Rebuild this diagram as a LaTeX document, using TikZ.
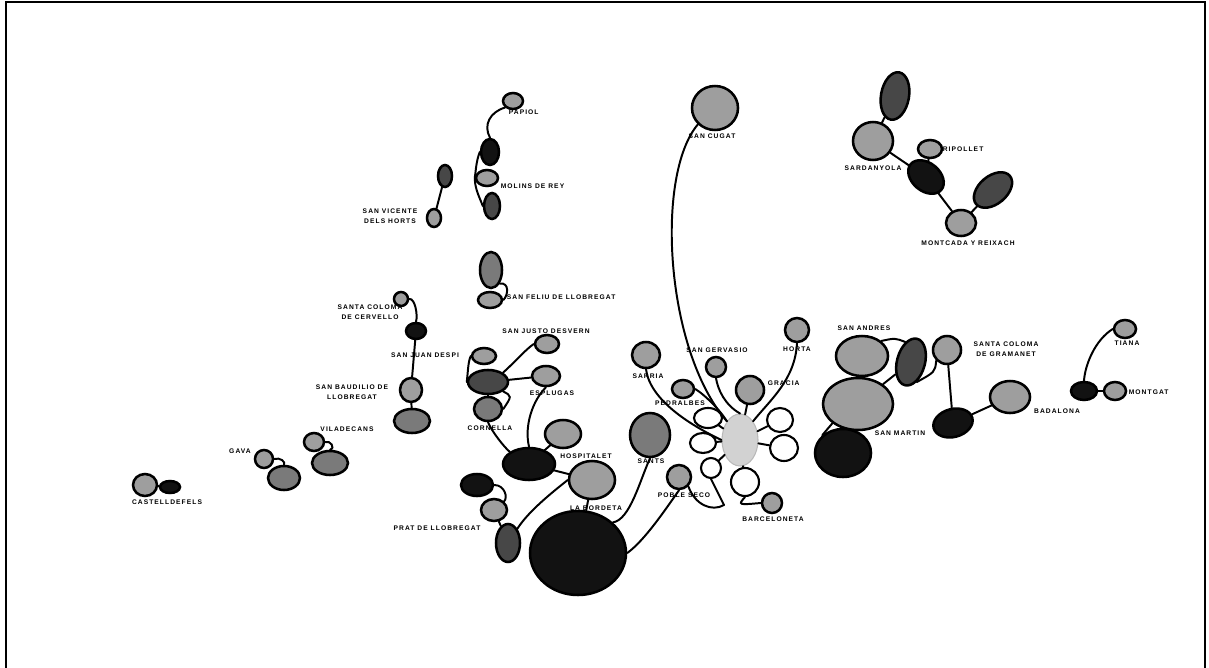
\documentclass[tikz,border=0pt]{standalone}
\usepackage{fontspec}
\newfontfamily\labfont[LetterSpace=16]{Liberation Sans}
\usetikzlibrary{shapes.geometric}

\definecolor{lightfill}{gray}{0.62}
\definecolor{midfill}{gray}{0.48}
\definecolor{darkfill}{gray}{0.28}
\definecolor{blackfill}{gray}{0.07}

\tikzset{
  town/.style={ellipse, draw=black, line width=3.6pt, inner sep=0pt},
  lt/.style={town, fill=lightfill},
  md/.style={town, fill=midfill},
  dk/.style={town, fill=darkfill},
  bk/.style={town, fill=blackfill},
  hole/.style={town, fill=white, line width=3pt},
  centre/.style={ellipse, draw=gray!55, fill=gray!35, line width=1.5pt, inner sep=0pt},
  sz/.style 2 args={minimum width=#1mm, minimum height=#2mm},
  link/.style={line width=2.8pt, line cap=round},
  lab/.style={font=\labfont\bfseries\fontsize{9.5}{14}\selectfont, inner sep=1pt, align=center}
}

\begin{document}
\begin{tikzpicture}[x=0.5mm, y=-0.5mm]
        \useasboundingbox (0,0) rectangle (1209,668);
        % frame
        \draw [line width=1.8pt] (6,668) -- (6,2) -- (1205,2) -- (1205,668);

        % Papiol and Molins de Rey
        \node [lt, sz={10}{8}] (papiol) at (513,101) {};
        \node [bk, sz={9}{13}] (molinsb) at (490,152) {};
        \node [lt, sz={11}{8}] (molins) at (487,178) {};
        \node [dk, sz={8}{13}] (molinsd) at (492,206) {};
        \node [lab, anchor=west] (l-papiol) at (508,112) {PAPIOL};
        \node [lab, anchor=west] (l-molins) at (500,186) {MOLINS DE REY};
        \draw [link] (papiol.south west) .. controls (490,112) and (483,125) .. (molinsb.north);
        \draw [link] (molinsb.west) .. controls (476,162) and (476,170) .. (molins.west);
        \draw [link] (molins.west) .. controls (475,190) and (480,198) .. (molinsd.west);

        % San Vicente dels Horts
        \node [dk, sz={7}{11}] (svd) at (445,176) {};
        \node [lt, sz={7}{9}] (svh) at (434,218) {};
        \node [lab] (l-svh) at (390,216) {SAN VICENTE\\DELS HORTS};
        \draw [link] (svd) -- (svh);

        % San Feliu de Llobregat
        \node [md, sz={11}{18}] (sfd) at (491,270) {};
        \node [lt, sz={12}{8}] (sfeliu) at (490,300) {};
        \node [lab, anchor=west] (l-sfeliu) at (506,297) {SAN FELIU DE LLOBREGAT};
        \draw [link] (sfd.south east) .. controls (510,282) and (508,296) .. (sfeliu.east);

        % Cervello column
        \node [lt, sz={7}{7}] (scc) at (401,299) {};
        \node [bk, sz={10}{8}] (sccb) at (416,331) {};
        \node [lt, sz={11}{12}] (sbaud) at (411,390) {};
        \node [md, sz={18}{12}] (sbaudb) at (412,421) {};
        \node [lab] (l-scc) at (370,312) {SANTA COLOMA\\DE CERVELLO};
        \node [lab] (l-sjd) at (425,355) {SAN JUAN DESPI};
        \node [lab] (l-sbaud) at (352,392) {SAN BAUDILIO DE\\LLOBREGAT};
        \draw [link] (scc.east) .. controls (415,298) and (418,315) .. (sccb.north);
        \draw [link] (sccb) -- (sbaud);
        \draw [link] (sbaud) -- (sbaudb);

        % Viladecans, Gava, Castelldefels
        \node [lt, sz={10}{9}] (vila) at (314,442) {};
        \node [md, sz={18}{12}] (vilab) at (330,463) {};
        \node [lt, sz={9}{9}] (gava) at (264,459) {};
        \node [md, sz={16}{12}] (gavab) at (284,478) {};
        \node [lt, sz={12}{11}] (castell) at (145,485) {};
        \node [bk, sz={10}{6}] (castellb) at (170,487) {};
        \node [lab] (l-vila) at (347,429) {VILADECANS};
        \node [lab] (l-gava) at (240,451) {GAVA};
        \node [lab] (l-castell) at (167,502) {CASTELLDEFELS};
        \draw [link] (vila.east) .. controls (330,440) and (336,448) .. (vilab.north);
        \draw [link] (gava.east) .. controls (280,457) and (286,462) .. (gavab.north);
        \draw [link] (castell) -- (castellb);

        % Llobregat
        \node [lt, sz={12}{8}] (sjdg) at (484,356) {};
        \node [dk, sz={20}{12}] (sjdd) at (488,382) {};
        \node [lt, sz={12}{9}] (sjust) at (547,344) {};
        \node [lt, sz={14}{10}] (espl) at (546,376) {};
        \node [md, sz={14}{12}] (corn) at (488,409) {};
        \node [bk, sz={26}{16}] (hosp) at (529,464) {};
        \node [lt, sz={18}{14}] (hospg) at (563,434) {};
        \node [lt, sz={23}{19}] (bord) at (592,480) {};
        \node [bk, sz={48}{42}] (franca) at (578,553) {};
        \node [bk, sz={16}{11}] (pratb) at (477,485) {};
        \node [lt, sz={13}{11}] (pratg) at (494,510) {};
        \node [dk, sz={12}{19}] (prat) at (508,543) {};
        \node [lab] (l-sjust) at (546,331) {SAN JUSTO DESVERN};
        \node [lab] (l-espl) at (552,393) {ESPLUGAS};
        \node [lab] (l-corn) at (490,428) {CORNELLA};
        \node [lab] (l-hosp) at (586,456) {HOSPITALET};
        \node [lab] (l-bord) at (596,508) {LA BORDETA};
        \node [lab] (l-prat) at (437,528) {PRAT DE LLOBREGAT};
        \draw [link] (sjdg.west) .. controls (468,362) and (468,372) .. (sjdd.west);
        \draw [link] (sjdd.north east) .. controls (515,362) and (525,350) .. (sjust.west);
        \draw [link] (sjdd) -- (espl);
        \draw [link] (sjdd) -- (corn);
        \draw [link] (sjdd.south east) .. controls (512,396) .. (corn.east);
        \draw [link] (corn.south) .. controls (492,432) and (505,448) .. (hosp.north west);
        \draw [link] (espl.south) .. controls (533,400) and (524,425) .. (hosp.north);
        \draw [link] (hosp) -- (hospg);
        \draw [link] (hosp) -- (bord);
        \draw [link] (pratb.east) .. controls (505,485) and (508,498) .. (pratg.north east);
        \draw [link] (pratg) -- (prat);
        \draw [link] (prat.north east) .. controls (528,512) and (550,494) .. (bord.west);
        \draw [link] (bord) -- (franca);

        % Barcelona
        \node [md, sz={20}{22}] (sants) at (650,435) {};
        \node [lt, sz={23}{22}] (cugat) at (715,108) {};
        \node [lt, sz={14}{13}] (sarria) at (646,355) {};
        \node [lt, sz={10}{10}] (gerv) at (716,367) {};
        \node [lt, sz={11}{9}] (pedr) at (683,389) {};
        \node [lt, sz={14}{14}] (gracia) at (750,390) {};
        \node [lt, sz={12}{12}] (horta) at (797,330) {};
        \node [lt, sz={12}{12}] (poble) at (679,477) {};
        \node [lt, sz={10}{10}] (bneta) at (772,503) {};
        \node [centre, sz={18}{26}] (bcn) at (740,440) {};
        \node [hole, sz={14}{10}] (h1) at (708,418) {};
        \node [hole, sz={13}{10}] (h2) at (703,443) {};
        \node [hole, sz={10}{10}] (h3) at (711,468) {};
        \node [hole, sz={14}{14}] (h4) at (745,482) {};
        \node [hole, sz={13}{12}] (h5) at (780,420) {};
        \node [hole, sz={14}{13}] (h6) at (784,448) {};
        \coordinate (hook) at (724,505);
        \node [lab] (l-sants) at (651,461) {SANTS};
        \node [lab] (l-cugat) at (712,136) {SAN CUGAT};
        \node [lab] (l-sarria) at (648,376) {SARRIA};
        \node [lab] (l-gerv) at (717,350) {SAN GERVASIO};
        \node [lab] (l-pedr) at (680,403) {PEDRALBES};
        \node [lab, anchor=west] (l-gracia) at (767,383) {GRACIA};
        \node [lab] (l-horta) at (797,349) {HORTA};
        \node [lab] (l-poble) at (684,495) {POBLE SECO};
        \node [lab] (l-bneta) at (773,519) {BARCELONETA};
        \draw [link] (franca.north east) .. controls (630,520) and (640,480) .. (sants.south);
        \draw [link] (franca.east) .. controls (645,540) and (665,510) .. (poble.south);
        \draw [link] (cugat.south west) .. controls (655,175) and (665,350) .. (bcn.north west);
        \draw [link] (sarria.south) .. controls (650,400) and (690,425) .. (bcn.west);
        \draw [link] (gerv.south) .. controls (718,390) and (725,405) .. (bcn.north);
        \draw [link] (pedr.east) .. controls (705,395) and (720,410) .. (bcn.north west);
        \draw [link] (gracia) -- (bcn);
        \draw [link] (horta.south) .. controls (795,380) and (770,400) .. (bcn.north east);
        \foreach \h in {h1,h2,h3,h4,h5,h6}
          \draw [link] (\h) -- (bcn);
        \draw [link] (h3.south) -- (hook);
        \draw [link] (poble.south east) .. controls (695,505) and (712,512) .. (hook);
        \draw [link] (h4.south) .. controls (738,505) .. (bneta.west);

        % San Andres, Santa Coloma, Badalona
        \node [lt, sz={26}{20}] (sandres) at (862,356) {};
        \node [lt, sz={35}{26}] (sandresb) at (858,404) {};
        \node [dk, sz={14}{24}, rotate=-15] (sandresd) at (911,362) {};
        \node [bk, sz={28}{24}] (sabk) at (843,453) {};
        \node [lt, sz={14}{14}] (scgram) at (947,350) {};
        \node [bk, sz={20}{14}, rotate=15] (smartin) at (953,423) {};
        \node [lt, sz={20}{16}] (badal) at (1010,397) {};
        \node [lt, sz={11}{9}] (tiana) at (1125,329) {};
        \node [bk, sz={13}{9}] (montgb) at (1084,391) {};
        \node [lt, sz={11}{9}] (montg) at (1115,391) {};
        \node [lab] (l-sandres) at (864,328) {SAN ANDRES};
        \node [lab] (l-scgram) at (1006,349) {SANTA COLOMA\\DE GRAMANET};
        \node [lab] (l-smartin) at (900,433) {SAN MARTIN};
        \node [lab] (l-badal) at (1057,411) {BADALONA};
        \node [lab] (l-tiana) at (1127,343) {TIANA};
        \node [lab, anchor=west] (l-montg) at (1128,392) {MONTGAT};
        \draw [link] (sandres.north east) .. controls (895,338) .. (sandresd.north west);
        \draw [link] (sandresb) -- (sandresd);
        \draw [link] (sandresb.south west) -- (sabk.north west);
        \draw [link] (sandresd.south east) .. controls (935,372) .. (scgram.south west);
        \draw [link] (scgram) -- (smartin);
        \draw [link] (smartin) -- (badal);
        \draw [link] (tiana.west) .. controls (1095,340) and (1085,365) .. (montgb.north);
        \draw [link] (montgb) -- (montg);

        % Sardanyola, Ripollet, Montcada
        \node [dk, sz={14}{24}, rotate=-10] (ned) at (895,96) {};
        \node [lt, sz={20}{19}] (cerd) at (873,141) {};
        \node [lt, sz={12}{9}] (ripol) at (930,149) {};
        \node [bk, sz={20}{14}, rotate=-40] (ripb) at (926,177) {};
        \node [dk, sz={22}{14}, rotate=40] (ned2) at (993,190) {};
        \node [lt, sz={15}{13}] (montc) at (961,223) {};
        \node [lab] (l-cerd) at (873,168) {SARDANYOLA};
        \node [lab, anchor=west] (l-ripol) at (942,149) {RIPOLLET};
        \node [lab] (l-montc) at (968,243) {MONTCADA Y REIXACH};
        \draw [link] (ned) -- (cerd);
        \draw [link] (cerd) -- (ripb);
        \draw [link] (ripol) -- (ripb);
        \draw [link] (ripb) -- (montc);
        \draw [link] (montc) -- (ned2);
\end{tikzpicture}
\end{document}
